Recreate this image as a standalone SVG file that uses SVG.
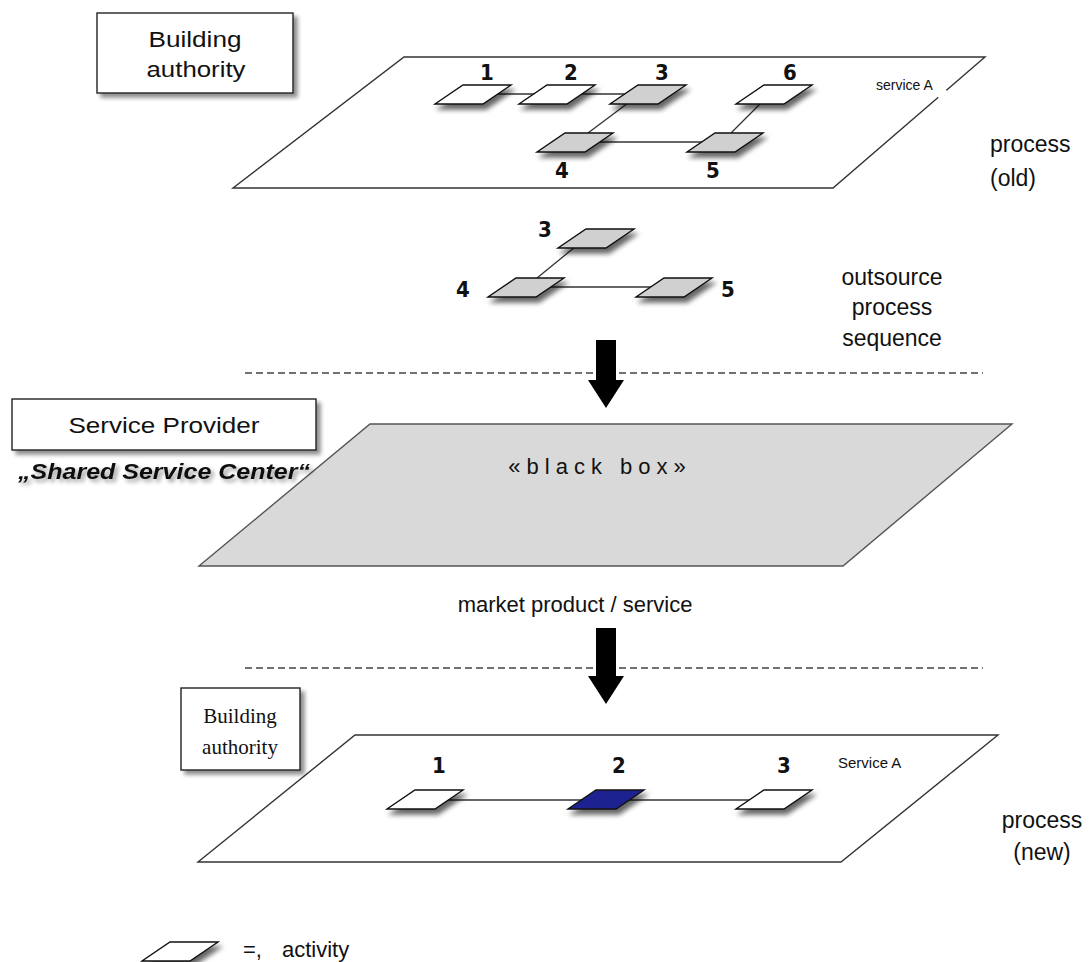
<svg xmlns="http://www.w3.org/2000/svg" xmlns:xlink="http://www.w3.org/1999/xlink" width="1090" height="962" viewBox="0 0 1090 962">
  <style>
    .plane { fill: #ffffff; stroke: #333333; stroke-width: 1.4; }
    .plane-grey { fill: #d9d9d9; stroke: #555555; stroke-width: 1.4; }
    .box { fill: #ffffff; stroke: #222222; stroke-width: 1.4; }
    .link { stroke: #333333; stroke-width: 1.3; fill: none; }
    .dash { stroke: #444444; stroke-width: 1.4; stroke-dasharray: 7 4; fill: none; }
    .sans { font-family: "Liberation Sans", Arial, sans-serif; fill: #111111; }
    .serif { font-family: "Liberation Serif", "Times New Roman", serif; fill: #111111; }
    .num { font-family: "Liberation Sans Narrow", "DejaVu Sans Condensed", "Liberation Sans", sans-serif; font-weight: bold; font-size: 22px; fill: #111111; text-anchor: middle; }
    .act-white { fill: #ffffff; stroke: #111111; stroke-width: 1.4; }
    .act-grey { fill: #d0d0d0; stroke: #111111; stroke-width: 1.4; }
    .act-blue { fill: #1e2490; stroke: #111111; stroke-width: 1.4; }
  </style>
  <defs>
    <filter id="soft" x="-20%" y="-30%" width="150%" height="200%">
      <feGaussianBlur in="SourceAlpha" stdDeviation="2.5"/>
      <feOffset dx="3" dy="5" result="off"/>
      <feComponentTransfer><feFuncA type="linear" slope="0.6"/></feComponentTransfer>
      <feMerge><feMergeNode/><feMergeNode in="SourceGraphic"/></feMerge>
    </filter>
    <filter id="boxshadow" x="-10%" y="-10%" width="130%" height="140%">
      <feGaussianBlur in="SourceAlpha" stdDeviation="2"/>
      <feOffset dx="4" dy="4"/>
      <feComponentTransfer><feFuncA type="linear" slope="0.45"/></feComponentTransfer>
      <feMerge><feMergeNode/><feMergeNode in="SourceGraphic"/></feMerge>
    </filter>
    <filter id="textshadow" x="-10%" y="-30%" width="130%" height="180%">
      <feGaussianBlur in="SourceAlpha" stdDeviation="2"/>
      <feOffset dx="3" dy="3"/>
      <feComponentTransfer><feFuncA type="linear" slope="0.4"/></feComponentTransfer>
      <feMerge><feMergeNode/><feMergeNode in="SourceGraphic"/></feMerge>
    </filter>
    <!-- activity parallelogram, origin at left of its top edge line -->
    <polygon id="act" points="28,0 76,0 48,19 0,19"/>
  </defs>

  <!-- planes -->
  <g id="plane-old">
    <polygon class="plane" points="404,57 985,57 833,188 233,188"/>
    <!-- break in the right edge behind the service label -->
    <line x1="938" y1="97" x2="946" y2="90" stroke="#ffffff" stroke-width="4"/>
    <text class="sans" x="876" y="90" font-size="14">service A</text>
  </g>
  <g id="plane-blackbox">
    <polygon class="plane-grey" points="370,424 1012,424 843,566 199,566"/>
    <text class="sans" x="600" y="474" font-size="22" text-anchor="middle" letter-spacing="6">«black box»</text>
  </g>
  <g id="plane-new">
    <polygon class="plane" points="355,735 998,735 841,862 198,862"/>
    <line x1="945" y1="783" x2="953" y2="775" stroke="#ffffff" stroke-width="4"/>
    <text class="sans" x="838" y="768" font-size="15">Service A</text>
  </g>

  <!-- connectors between activities -->
  <g id="connectors">
    <line class="link" x1="473" y1="94" x2="648" y2="94"/>
    <line class="link" x1="628" y1="103" x2="588" y2="133"/>
    <line class="link" x1="575" y1="142" x2="725" y2="142"/>
    <line class="link" x1="761" y1="103" x2="731" y2="133"/>
    <line class="link" x1="575" y1="247" x2="537" y2="278"/>
    <line class="link" x1="526" y1="287" x2="674" y2="287"/>
    <line class="link" x1="425" y1="800" x2="774" y2="800"/>
    <line class="dash" x1="245" y1="373" x2="983" y2="373"/>
    <line class="dash" x1="245" y1="668" x2="983" y2="668"/>
    <path d="M596,340 H616 V380 H624 L606,408 L588,380 H596 Z" fill="#000000"/>
    <path d="M596,628 H616 V676 H624 L606,704 L588,676 H596 Z" fill="#000000"/>
  </g>

  <!-- activities of the old process -->
  <g id="old-1"><use xlink:href="#act" x="435" y="85" class="act-white" filter="url(#soft)"/><text class="num" x="487" y="80">1</text></g>
  <g id="old-2"><use xlink:href="#act" x="519" y="85" class="act-white" filter="url(#soft)"/><text class="num" x="571" y="80">2</text></g>
  <g id="old-3"><use xlink:href="#act" x="610" y="85" class="act-grey" filter="url(#soft)"/><text class="num" x="662" y="80">3</text></g>
  <g id="old-6"><use xlink:href="#act" x="736" y="85" class="act-white" filter="url(#soft)"/><text class="num" x="790" y="80">6</text></g>
  <g id="old-4"><use xlink:href="#act" x="537" y="133" class="act-grey" filter="url(#soft)"/><text class="num" x="562" y="178">4</text></g>
  <g id="old-5"><use xlink:href="#act" x="687" y="133" class="act-grey" filter="url(#soft)"/><text class="num" x="713" y="178">5</text></g>

  <!-- outsourced sequence -->
  <g id="seq-3"><use xlink:href="#act" x="558" y="229" class="act-grey" filter="url(#soft)"/><text class="num" x="545" y="237">3</text></g>
  <g id="seq-4"><use xlink:href="#act" x="488" y="278" class="act-grey" filter="url(#soft)"/><text class="num" x="463" y="297">4</text></g>
  <g id="seq-5"><use xlink:href="#act" x="636" y="278" class="act-grey" filter="url(#soft)"/><text class="num" x="728" y="297">5</text></g>

  <!-- activities of the new process -->
  <g id="new-1"><use xlink:href="#act" x="387" y="790" class="act-white" filter="url(#soft)"/><text class="num" x="439" y="773">1</text></g>
  <g id="new-2"><use xlink:href="#act" x="568" y="790" class="act-blue" filter="url(#soft)"/><text class="num" x="619" y="773">2</text></g>
  <g id="new-3"><use xlink:href="#act" x="736" y="790" class="act-white" filter="url(#soft)"/><text class="num" x="784" y="773">3</text></g>

  <!-- labels -->
  <g id="box-authority-old">
    <rect class="box" x="97" y="13" width="196" height="80" filter="url(#boxshadow)"/>
    <text class="sans" x="195" y="47" font-size="22" text-anchor="middle" textLength="93" lengthAdjust="spacingAndGlyphs">Building</text>
    <text class="sans" x="196" y="77" font-size="22" text-anchor="middle" textLength="99" lengthAdjust="spacingAndGlyphs">authority</text>
  </g>
  <g id="box-provider">
    <rect class="box" x="12" y="399" width="304" height="51" filter="url(#boxshadow)"/>
    <text class="sans" x="164" y="433" font-size="22" text-anchor="middle" textLength="191" lengthAdjust="spacingAndGlyphs">Service Provider</text>
  </g>
  <g id="label-ssc">
    <text class="sans" x="18" y="479" font-size="22" font-weight="bold" font-style="italic" textLength="292" lengthAdjust="spacingAndGlyphs" filter="url(#textshadow)">„Shared Service Center“</text>
  </g>
  <g id="box-authority-new">
    <rect class="box" x="181" y="688" width="119" height="82" filter="url(#boxshadow)"/>
    <text class="serif" x="240" y="723" font-size="21" text-anchor="middle">Building</text>
    <text class="serif" x="240" y="754" font-size="21" text-anchor="middle">authority</text>
  </g>
  <g id="label-old">
    <text class="sans" x="990" y="152" font-size="23">process</text>
    <text class="sans" x="990" y="186" font-size="23">(old)</text>
  </g>
  <g id="label-outsource">
    <text class="sans" x="892" y="285" font-size="23" text-anchor="middle">outsource</text>
    <text class="sans" x="892" y="315" font-size="23" text-anchor="middle">process</text>
    <text class="sans" x="892" y="346" font-size="23" text-anchor="middle">sequence</text>
  </g>
  <g id="label-market">
    <text class="sans" x="575" y="612" font-size="22" text-anchor="middle">market product / service</text>
  </g>
  <g id="label-new">
    <text class="sans" x="1042" y="828" font-size="23" text-anchor="middle">process</text>
    <text class="sans" x="1042" y="860" font-size="23" text-anchor="middle">(new)</text>
  </g>
  <g id="legend">
    <use xlink:href="#act" x="142" y="942" class="act-white" filter="url(#soft)"/>
    <text class="sans" x="243" y="957" font-size="22">=,</text>
    <text class="sans" x="282" y="957" font-size="22">activity</text>
  </g>
</svg>
